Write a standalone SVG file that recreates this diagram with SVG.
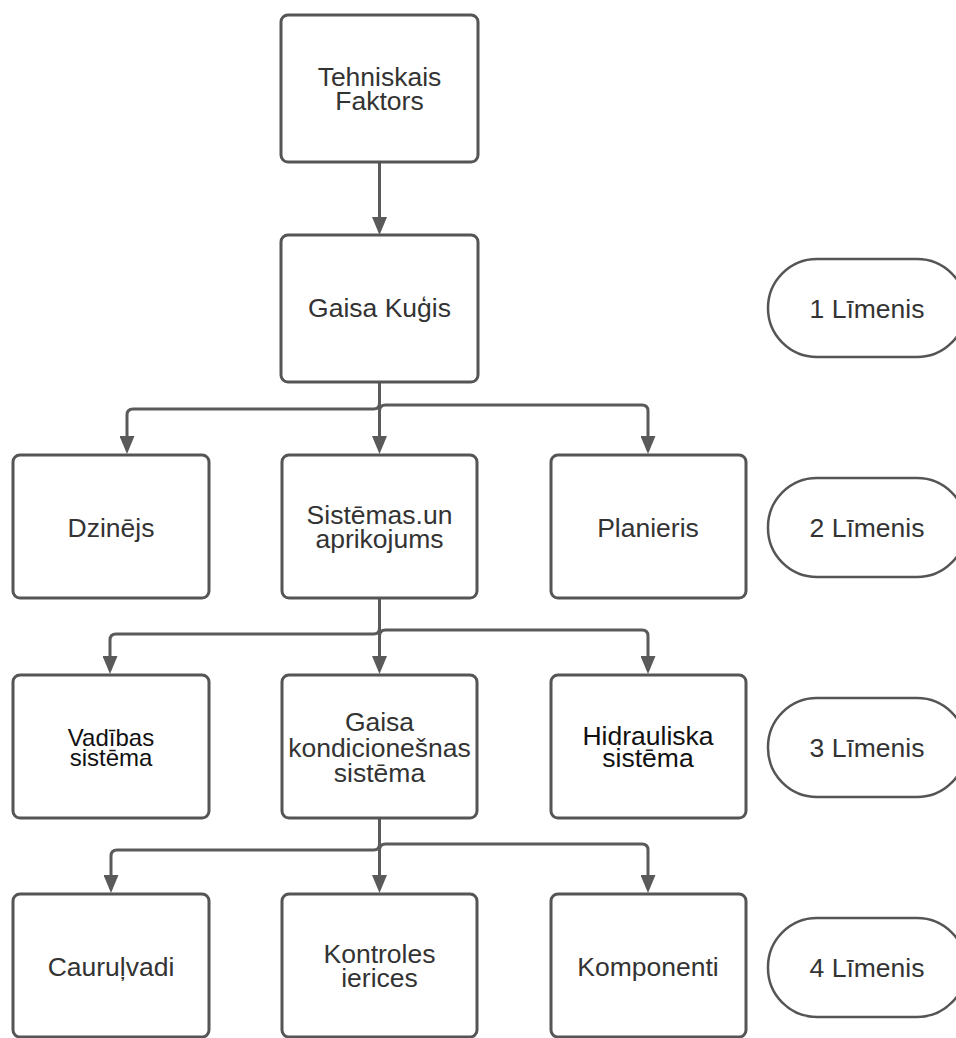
<svg xmlns="http://www.w3.org/2000/svg" width="956" height="1038" viewBox="0 0 956 1038">
<style>
.box{fill:#fff;stroke:#555;stroke-width:3}
.pill{fill:#fff;stroke:#555;stroke-width:2.5}
.t{font-family:"Liberation Sans",Arial,sans-serif;font-size:26.5px;fill:#333;text-anchor:middle}
.d{fill:#111;font-size:24px}
.c{fill:none;stroke:#5a5a5a;stroke-width:3}
</style>
<defs>
<marker id="ah" markerUnits="userSpaceOnUse" viewBox="0 0 18 15" refX="14" refY="7.5" markerWidth="18" markerHeight="15" orient="auto">
<path d="M0,0 L18,7.5 L0,15 z" fill="#5a5a5a"/>
</marker>
</defs>
<rect width="956" height="1038" fill="#fff"/>
<g id="connectors">
<path class="c" marker-end="url(#ah)" d="M379.5 162 V231"/>
<path class="c" marker-end="url(#ah)" d="M379.5 382 V403 Q379.5 409 373.5 409 H133 Q127 409 127 415 V450"/>
<path class="c" marker-end="url(#ah)" d="M379.5 382 V450"/>
<path class="c" marker-end="url(#ah)" d="M379.5 382 V411 Q379.5 405 385.5 405 H642 Q648 405 648 411 V450"/>
<path class="c" marker-end="url(#ah)" d="M379.5 598 V628 Q379.5 634 373.5 634 H116 Q110 634 110 640 V670"/>
<path class="c" marker-end="url(#ah)" d="M379.5 598 V670"/>
<path class="c" marker-end="url(#ah)" d="M379.5 598 V636 Q379.5 630 385.5 630 H642 Q648 630 648 636 V670"/>
<path class="c" marker-end="url(#ah)" d="M379.5 818 V844 Q379.5 850 373.5 850 H117 Q111 850 111 856 V889"/>
<path class="c" marker-end="url(#ah)" d="M379.5 818 V889"/>
<path class="c" marker-end="url(#ah)" d="M379.5 818 V850 Q379.5 844 385.5 844 H642 Q648 844 648 850 V889"/>
</g>
<g id="n1"><rect class="box" x="281" y="15" width="197" height="147" rx="7"/><text class="t" x="379.5" y="86">Tehniskais</text><text class="t" x="379.5" y="110">Faktors</text></g>
<g id="n2"><rect class="box" x="281" y="235" width="197" height="147" rx="7"/><text class="t" x="379.5" y="317">Gaisa Kuģis</text></g>
<g id="n3"><rect class="box" x="13" y="455" width="196" height="143" rx="7"/><text class="t" x="111" y="537">Dzinējs</text></g>
<g id="n4"><rect class="box" x="282" y="455" width="195" height="143" rx="7"/><text class="t" x="379.5" y="524">Sistēmas.un</text><text class="t" x="379.5" y="548">aprikojums</text></g>
<g id="n5"><rect class="box" x="551" y="455" width="195" height="143" rx="7"/><text class="t" x="648" y="537">Planieris</text></g>
<g id="n6"><rect class="box" x="13" y="675" width="196" height="143" rx="7"/><text class="t d" x="111" y="746">Vadības</text><text class="t d" x="111" y="766">sistēma</text></g>
<g id="n7"><rect class="box" x="282" y="675" width="195" height="143" rx="7"/><text class="t" x="379.5" y="731">Gaisa</text><text class="t" x="379.5" y="757">kondicionešnas</text><text class="t" x="379.5" y="782">sistēma</text></g>
<g id="n8"><rect class="box" x="551" y="675" width="195" height="143" rx="7"/><text class="t d" x="648" y="745" style="font-size:26.5px">Hidrauliska</text><text class="t d" x="648" y="767" style="font-size:26.5px">sistēma</text></g>
<g id="n9"><rect class="box" x="13" y="894" width="196" height="143" rx="7"/><text class="t" x="111" y="976">Cauruļvadi</text></g>
<g id="n10"><rect class="box" x="282" y="894" width="195" height="143" rx="7"/><text class="t" x="379.5" y="963">Kontroles</text><text class="t" x="379.5" y="987">ierices</text></g>
<g id="n11"><rect class="box" x="551" y="894" width="195" height="143" rx="7"/><text class="t" x="648" y="976">Komponenti</text></g>
<g id="l1"><rect class="pill" x="768" y="259" width="198" height="98" rx="49"/><text class="t" x="867" y="318">1 Līmenis</text></g>
<g id="l2"><rect class="pill" x="768" y="478" width="198" height="99" rx="49"/><text class="t" x="867" y="537">2 Līmenis</text></g>
<g id="l3"><rect class="pill" x="768" y="698" width="198" height="99" rx="49"/><text class="t" x="867" y="757">3 Līmenis</text></g>
<g id="l4"><rect class="pill" x="768" y="918" width="198" height="99" rx="49"/><text class="t" x="867" y="977">4 Līmenis</text></g>
</svg>
